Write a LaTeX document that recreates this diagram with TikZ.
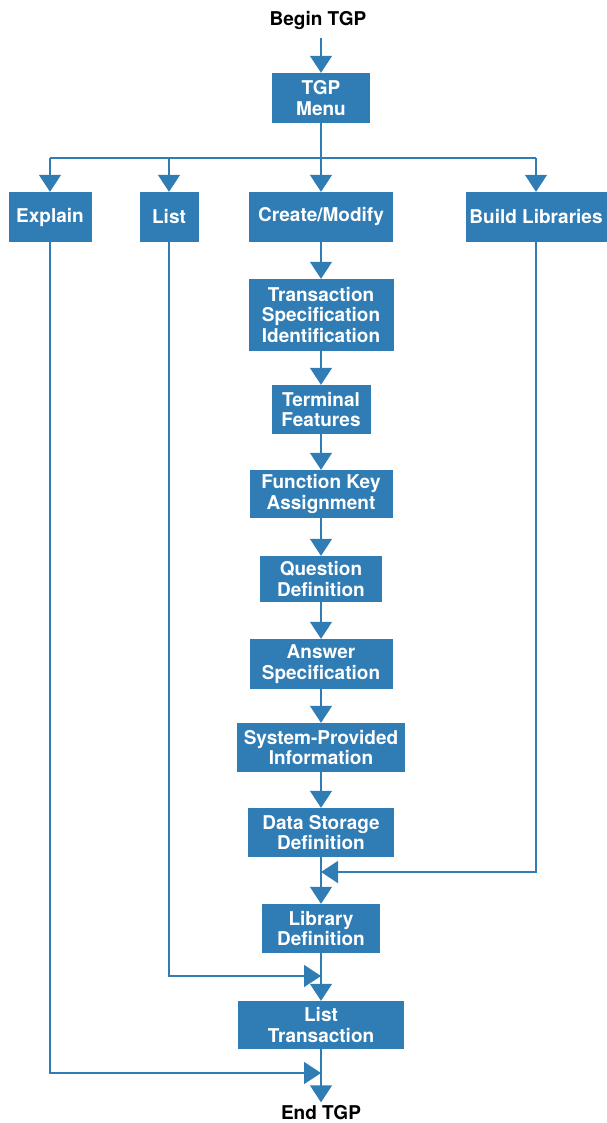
\documentclass[tikz,border=0pt]{standalone}
\usepackage{fontspec}
\setmainfont{TeX Gyre Heros}
\usetikzlibrary{arrows.meta}
\definecolor{hpblue}{RGB}{48,124,181}
\tikzset{
  x=1pt, y=-1pt,
  box/.style={fill=hpblue, text=white, font=\bfseries\fontsize{19}{20.7}\selectfont,
    align=center, inner sep=0pt},
  flow/.style={draw=hpblue, line width=1.4pt, -{Triangle[length=17pt,width=22pt]}},
  wire/.style={draw=hpblue, line width=1.4pt},
  endtext/.style={font=\bfseries\fontsize{19}{20}\selectfont}
}
\begin{document}
\begin{tikzpicture}
\useasboundingbox (0,0) rectangle (606,1123);
\node [endtext] (begin) at (318,20) {Begin TGP};
\node [box, minimum width=98pt, minimum height=50pt] (menu) at (321,98) {TGP\\Menu};
\node [box, minimum width=83pt, minimum height=50pt] (explain) at (50,217) {Explain};
\node [box, minimum width=59pt, minimum height=50pt] (list) at (169,217) {List};
\node [box, minimum width=144pt, minimum height=50pt] (create) at (321,217) {Create/Modify};
\node [box, minimum width=141pt, minimum height=50pt] (build) at (536,217) {Build Libraries};
\node [box, minimum width=145pt, minimum height=72pt] (trans) at (321,315) {Transaction\\Specification\\Identification};
\node [box, minimum width=99pt, minimum height=49pt] (term) at (321,409.5) {Terminal\\Features};
\node [box, minimum width=143pt, minimum height=48pt] (fkey) at (321,494) {Function Key\\Assignment};
\node [box, minimum width=122pt, minimum height=46pt] (quest) at (321,579) {Question\\Definition};
\node [box, minimum width=143pt, minimum height=50pt] (answer) at (321,664) {Answer\\Specification};
\node [box, minimum width=168pt, minimum height=49pt] (sysinfo) at (321,747.5) {System-Provided\\Information};
\node [box, minimum width=146pt, minimum height=49pt] (store) at (321,832.5) {Data Storage\\Definition};
\node [box, minimum width=118pt, minimum height=49pt] (libdef) at (321,928.5) {Library\\Definition};
\node [box, minimum width=166pt, minimum height=48pt] (listtr) at (321,1025) {List\\Transaction};
\node [endtext] (end) at (321,1113) {End TGP};
\coordinate (fork) at (321,158);
\coordinate (joinb) at (321,872);
\coordinate (joinl) at (321,976);
\coordinate (joine) at (321,1073);
\draw [flow] (menu.north |- begin.south) ++(0,5) -- (menu.north);
\draw [wire] (menu.south) -- (fork);
\draw [wire] (explain.north |- fork) -- (build.north |- fork);
\foreach \n in {explain,list,create,build}
  \draw [flow] (\n.north |- fork) -- (\n.north);
\draw [flow] (create) -- (trans);
\draw [flow] (trans) -- (term);
\draw [flow] (term) -- (fkey);
\draw [flow] (fkey) -- (quest);
\draw [flow] (quest) -- (answer);
\draw [flow] (answer) -- (sysinfo);
\draw [flow] (sysinfo) -- (store);
\draw [flow] (store) -- (libdef);
\draw [flow] (libdef) -- (listtr);
\draw [flow] (listtr) -- (end.north);
\draw [flow] (build.south) |- (joinb);
\draw [flow] (list.south) |- (joinl);
\draw [flow] (explain.south) |- (joine);
\end{tikzpicture}
\end{document}
